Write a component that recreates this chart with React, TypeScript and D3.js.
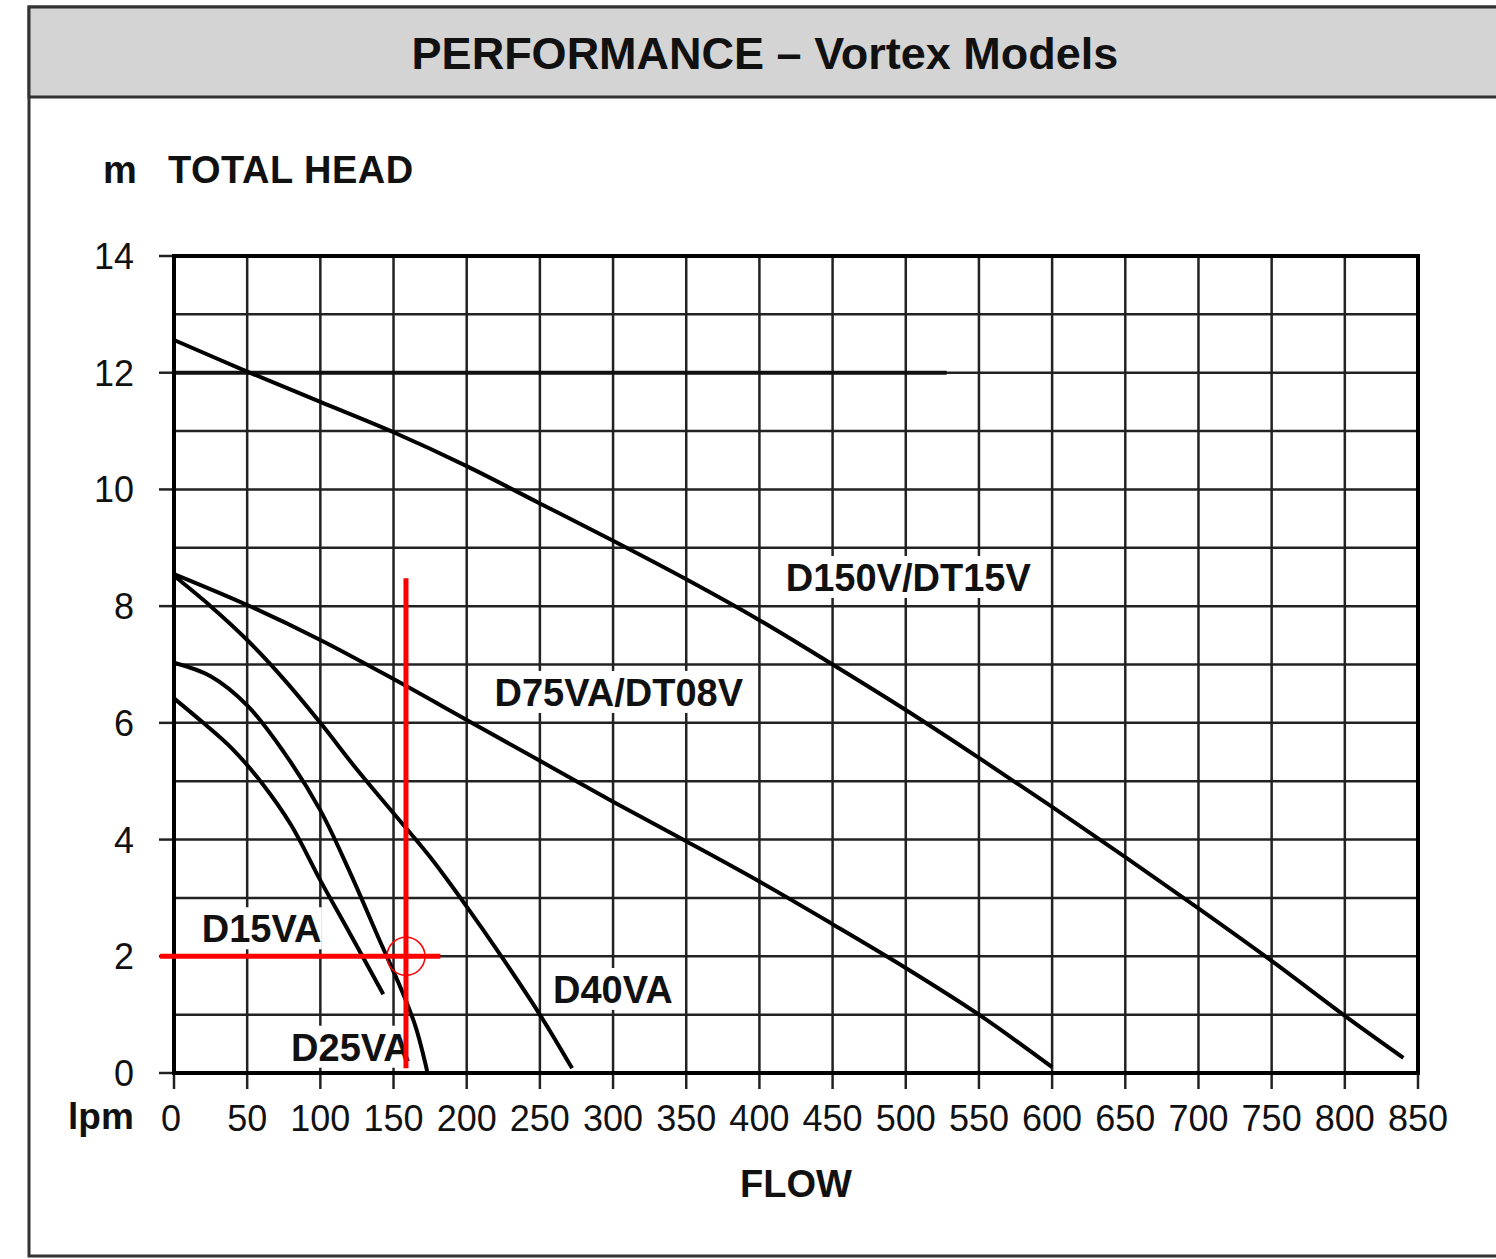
import React from "react";
import * as d3 from "d3";

// --- data ---
const TITLE = "PERFORMANCE – Vortex Models";
const Y_UNIT = "m";
const Y_TITLE = "TOTAL HEAD";
const X_UNIT = "lpm";
const X_TITLE = "FLOW";

const FLOW_TICKS = d3.range(0, 851, 50);
const HEAD_GRID = d3.range(0, 15, 1);
const HEAD_LABELS = [0, 2, 4, 6, 8, 10, 12, 14];

// [flow lpm, head m]
const D150V: [number, number][] = [
  [0, 12.56], [50, 12.02], [100, 11.5], [150, 10.98], [200, 10.4], [250, 9.76],
  [300, 9.12], [350, 8.46], [400, 7.76], [450, 7.0], [500, 6.22], [550, 5.4],
  [600, 4.56], [650, 3.7], [700, 2.82], [750, 1.92], [800, 0.98], [840, 0.26],
];
const D75VA: [number, number][] = [
  [0, 8.55], [50, 8.02], [100, 7.42], [150, 6.75], [200, 6.05], [250, 5.35],
  [300, 4.65], [350, 3.97], [400, 3.28], [450, 2.55], [500, 1.8], [550, 1.0],
  [600, 0.1],
];
const D40VA: [number, number][] = [
  [0, 8.52], [25, 8.0], [50, 7.42], [75, 6.75], [100, 6.0], [125, 5.2],
  [150, 4.45], [175, 3.7], [200, 2.85], [225, 1.95], [250, 1.0], [272, 0.08],
];
const D25VA: [number, number][] = [
  [0, 7.03], [25, 6.8], [50, 6.3], [75, 5.5], [100, 4.5], [120, 3.45],
  [140, 2.3], [155, 1.45], [165, 0.8], [173, 0.03],
];
const D15VA: [number, number][] = [
  [0, 6.42], [20, 6.0], [40, 5.55], [60, 4.97], [80, 4.25], [100, 3.3],
  [120, 2.4], [143, 1.35],
];

const SERIES = [D150V, D75VA, D40VA, D25VA, D15VA];
const SERIES_NAMES = ["D150V/DT15V", "D75VA/DT08V", "D40VA", "D25VA", "D15VA"];
// where each name sits (flow at left edge, head at text centre line)
const LABEL_FLOW = [418, 219, 259, 80, 19];
const LABEL_HEAD = [8.5, 6.53, 1.44, 0.45, 2.48];

// heavier segment on the 12 m line
const HEAVY_HEAD = 12;
const HEAVY_TO = 528;

// red duty point
const DUTY_FLOW = 158.5;
const DUTY_HEAD = 2;
const DUTY_V = [0.08, 8.48];
const DUTY_H = [-9.5, 182];

const FONT = "'Liberation Sans', Arial, Helvetica, sans-serif";
const W = 1496;
const H = 1259;

export default function App() {
  const x = d3.scaleLinear().domain([0, 850]).range([174, 1418]);
  const y = d3.scaleLinear().domain([0, 14]).range([1073, 256]);

  const line = d3
    .line<[number, number]>()
    .x((d) => x(d[0]))
    .y((d) => y(d[1]))
    .curve(d3.curveCatmullRom.alpha(0.5));

  const labelSize = 38;

  return (
    <svg
      width={W}
      height={H}
      style={{ position: "absolute", left: 0, top: 0, background: "#fff" }}
      fontFamily={FONT}
    >
      {/* frame + title band */}
      <rect x={29} y={7} width={1500} height={1249} fill="#fff" stroke="#333" strokeWidth={3} />
      <rect x={29} y={7} width={1500} height={90} fill="#d4d4d4" stroke="#333" strokeWidth={3} />
      <text x={765} y={69} textAnchor="middle" fontSize={45} fontWeight="bold" fill="#111">
        {TITLE}
      </text>

      {/* axis titles */}
      <text x={103} y={183} fontSize={38} fontWeight="bold" fill="#111">{Y_UNIT}</text>
      <text x={168} y={183} fontSize={38} fontWeight="bold" fill="#111" letterSpacing={0.5}>{Y_TITLE}</text>
      <text x={68} y={1129} fontSize={37} fontWeight="bold" fill="#111">{X_UNIT}</text>
      <text x={796} y={1197} textAnchor="middle" fontSize={38} fontWeight="bold" fill="#111">
        {X_TITLE}
      </text>

      {/* grid */}
      {HEAD_GRID.map((h) => (
        <line key={"h" + h} x1={x(0)} x2={x(850)} y1={y(h)} y2={y(h)} stroke="#222" strokeWidth={2.5} />
      ))}
      {FLOW_TICKS.map((q) => (
        <line key={"v" + q} x1={x(q)} x2={x(q)} y1={y(0)} y2={y(14)} stroke="#222" strokeWidth={2.5} />
      ))}
      <line x1={x(0)} x2={x(HEAVY_TO)} y1={y(HEAVY_HEAD)} y2={y(HEAVY_HEAD)} stroke="#111" strokeWidth={4} />

      {/* ticks */}
      {HEAD_LABELS.map((h) => (
        <g key={"yt" + h}>
          <line x1={x(0) - 15} x2={x(0)} y1={y(h)} y2={y(h)} stroke="#222" strokeWidth={2.5} />
          <text x={134} y={y(h) + 13} textAnchor="end" fontSize={36} fill="#111">{h}</text>
        </g>
      ))}
      {FLOW_TICKS.map((q) => (
        <g key={"xt" + q}>
          <line x1={x(q)} x2={x(q)} y1={y(0)} y2={y(0) + 16} stroke="#222" strokeWidth={2.5} />
          <text x={x(q) - (q === 0 ? 3 : 0)} y={1131} textAnchor="middle" fontSize={36} fill="#111">{q}</text>
        </g>
      ))}

      {/* plot border */}
      <rect x={x(0)} y={y(14)} width={x(850) - x(0)} height={y(0) - y(14)} fill="none" stroke="#000" strokeWidth={4} />

      {/* label boxes */}
      {SERIES_NAMES.map((name, i) => {
        const w = name.length * labelSize * 0.6 + 12;
        return (
          <rect
            key={"lb" + i}
            x={x(LABEL_FLOW[i]) - 6}
            y={y(LABEL_HEAD[i]) - 21}
            width={w}
            height={42}
            fill="#fff"
          />
        );
      })}

      {/* curves */}
      {SERIES.map((s, i) => (
        <path key={"c" + i} d={line(s) || ""} fill="none" stroke="#000" strokeWidth={4} strokeLinejoin="round" />
      ))}

      {/* curve labels */}
      {SERIES_NAMES.map((name, i) => (
        <text
          key={"lt" + i}
          x={x(LABEL_FLOW[i])}
          y={y(LABEL_HEAD[i]) + 14}
          fontSize={labelSize}
          fontWeight="bold"
          fill="#111"
        >
          {name}
        </text>
      ))}

      {/* duty point */}
      <line x1={x(DUTY_FLOW)} x2={x(DUTY_FLOW)} y1={y(DUTY_V[0])} y2={y(DUTY_V[1])} stroke="#f00" strokeWidth={5} />
      <line x1={x(DUTY_H[0])} x2={x(DUTY_H[1])} y1={y(DUTY_HEAD)} y2={y(DUTY_HEAD)} stroke="#f00" strokeWidth={5} />
      <circle cx={x(DUTY_FLOW)} cy={y(DUTY_HEAD)} r={19} fill="none" stroke="#f00" strokeWidth={1.5} />
    </svg>
  );
}
